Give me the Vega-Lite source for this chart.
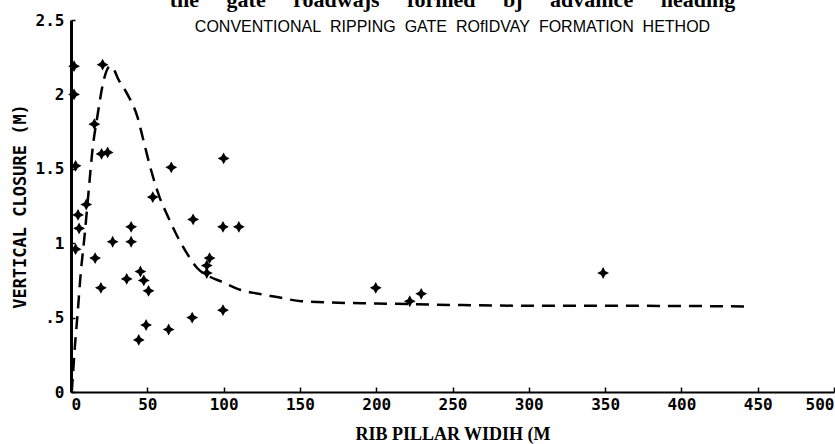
{
  "$schema": "https://vega.github.io/schema/vega-lite/v6.json",
  "width": 835,
  "height": 444,
  "autosize": {"type": "fit", "contains": "padding"},
  "padding": {"left": 11, "top": -11, "right": 0, "bottom": 1},
  "background": "white",
  "config": {"view": {"stroke": null}},
  "title": {
    "text": "\u00a0\u00a0\u00a0\u00a0the\u00a0\u00a0\u00a0\u00a0\u00a0gate\u00a0\u00a0\u00a0\u00a0\u00a0roadwajs\u00a0\u00a0\u00a0\u00a0\u00a0formed\u00a0\u00a0\u00a0\u00a0\u00a0bj\u00a0\u00a0\u00a0\u00a0\u00a0advamce\u00a0\u00a0\u00a0\u00a0\u00a0heading",
    "subtitle": "CONVENTIONAL\u00a0\u00a0RIPPING\u00a0\u00a0GATE\u00a0\u00a0ROfIDVAY\u00a0\u00a0FORMATION\u00a0\u00a0HETHOD",
    "anchor": "middle",
    "frame": "group",
    "font": "Liberation Serif",
    "fontSize": 22,
    "fontWeight": "bold",
    "color": "black",
    "subtitleFont": "Liberation Sans",
    "subtitleFontSize": 16,
    "subtitleColor": "black",
    "subtitlePadding": 7,
    "offset": -24
  },
  "datasets": {
    "points": [
      {"x": 2, "y": 2.19}, {"x": 2, "y": 2.0}, {"x": 15.3, "y": 1.8}, {"x": 20.7, "y": 2.2},
      {"x": 20, "y": 1.6}, {"x": 24, "y": 1.61}, {"x": 3, "y": 1.52}, {"x": 65.7, "y": 1.51},
      {"x": 100, "y": 1.57}, {"x": 10, "y": 1.26}, {"x": 53.6, "y": 1.31}, {"x": 4.6, "y": 1.19},
      {"x": 5.3, "y": 1.1}, {"x": 39.4, "y": 1.11}, {"x": 80, "y": 1.16}, {"x": 99.6, "y": 1.11},
      {"x": 110, "y": 1.11}, {"x": 27.3, "y": 1.01}, {"x": 39.4, "y": 1.01}, {"x": 3, "y": 0.96},
      {"x": 15.8, "y": 0.9}, {"x": 90.8, "y": 0.9}, {"x": 89, "y": 0.85}, {"x": 89, "y": 0.8},
      {"x": 45.5, "y": 0.81}, {"x": 36.5, "y": 0.76}, {"x": 47.7, "y": 0.75}, {"x": 19.6, "y": 0.7},
      {"x": 50.8, "y": 0.68}, {"x": 99.6, "y": 0.55}, {"x": 79.4, "y": 0.5}, {"x": 49.2, "y": 0.45},
      {"x": 64, "y": 0.42}, {"x": 44.4, "y": 0.35}, {"x": 199.7, "y": 0.7}, {"x": 222, "y": 0.61},
      {"x": 229.5, "y": 0.66}, {"x": 348.7, "y": 0.8}
    ],
    "curve": [
      {"x": 0.5, "y": 0.0}, {"x": 1.5, "y": 0.15}, {"x": 2.5, "y": 0.3}, {"x": 4.2, "y": 0.51},
      {"x": 6.4, "y": 0.8}, {"x": 8.8, "y": 1.04}, {"x": 12, "y": 1.4}, {"x": 14, "y": 1.62},
      {"x": 17.4, "y": 1.86}, {"x": 20.7, "y": 2.06}, {"x": 23, "y": 2.15}, {"x": 25.5, "y": 2.19},
      {"x": 28, "y": 2.17}, {"x": 30.6, "y": 2.11}, {"x": 37, "y": 2.0}, {"x": 43.8, "y": 1.84},
      {"x": 47, "y": 1.71}, {"x": 52.5, "y": 1.49}, {"x": 58, "y": 1.31}, {"x": 63.5, "y": 1.18},
      {"x": 70, "y": 1.04}, {"x": 76.7, "y": 0.92}, {"x": 83, "y": 0.83}, {"x": 90, "y": 0.78},
      {"x": 99, "y": 0.74}, {"x": 110, "y": 0.69}, {"x": 123, "y": 0.66}, {"x": 134, "y": 0.64},
      {"x": 151, "y": 0.61}, {"x": 175, "y": 0.6}, {"x": 200, "y": 0.595}, {"x": 250, "y": 0.585},
      {"x": 300, "y": 0.58}, {"x": 350, "y": 0.58}, {"x": 400, "y": 0.578}, {"x": 443, "y": 0.575}
    ]
  },
  "layer": [
    {
      "data": {"name": "curve"},
      "mark": {"type": "line", "color": "black", "strokeWidth": 2.5, "strokeDash": [13, 8], "interpolate": "monotone"},
      "encoding": {
        "x": {"field": "x", "type": "quantitative"},
        "y": {"field": "y", "type": "quantitative"}
      }
    },
    {
      "data": {"name": "points"},
      "mark": {
        "type": "point",
        "shape": "M0,-1L0.35,-0.35L1,0L0.35,0.35L0,1L-0.35,0.35L-1,0L-0.35,-0.35Z",
        "filled": true,
        "color": "black",
        "opacity": 1,
        "size": 140
      },
      "encoding": {
        "x": {
          "field": "x", "type": "quantitative",
          "scale": {"domain": [0, 500], "nice": false},
          "axis": {
            "values": [0, 50, 100, 150, 200, 250, 300, 350, 400, 450, 500],
            "grid": false,
            "domainColor": "black", "domainWidth": 2,
            "tickColor": "black", "tickSize": -5, "tickWidth": 1.5,
            "labelFont": "DejaVu Sans Mono", "labelFontWeight": "bold", "labelFontSize": 16,
            "labelColor": "black", "labelPadding": 9, "labelOverlap": false,
            "title": "RIB PILLAR WIDIH (M",
            "titleFont": "Liberation Serif", "titleFontSize": 18, "titleFontWeight": "bold",
            "titleColor": "black", "titlePadding": 13
          }
        },
        "y": {
          "field": "y", "type": "quantitative",
          "scale": {"domain": [0, 2.5], "nice": false},
          "axis": {
            "values": [0, 0.5, 1, 1.5, 2, 2.5],
            "labelExpr": "datum.value == 0.5 ? '.5' : format(datum.value, '~g')",
            "grid": false,
            "domainColor": "black", "domainWidth": 3,
            "tickColor": "black", "tickSize": -4, "tickWidth": 1.5,
            "labelFont": "DejaVu Sans Mono", "labelFontWeight": "bold", "labelFontSize": 16,
            "labelColor": "black", "labelPadding": 11, "labelOverlap": false,
            "title": "VERTICAL CLOSURE (M)",
            "titleFont": "DejaVu Sans Mono", "titleFontSize": 17, "titleFontWeight": "bold",
            "titleColor": "black", "titlePadding": 6
          }
        }
      }
    }
  ]
}
